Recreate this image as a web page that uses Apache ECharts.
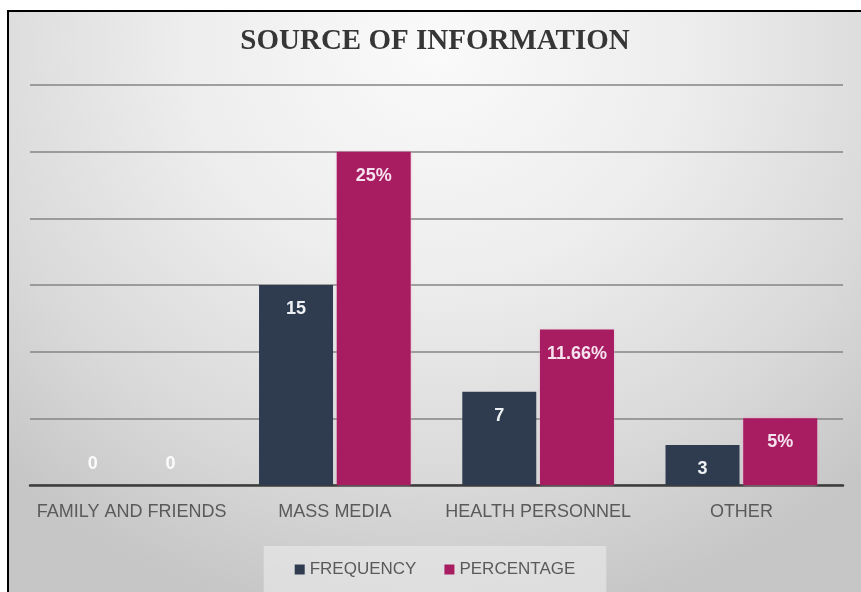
<!DOCTYPE html>
<html>
<head>
<meta charset="utf-8">
<script src="https://cdn.jsdelivr.net/npm/echarts@6/dist/echarts.min.js"></script>
<style>
  html, body { margin: 0; padding: 0; background: #ffffff; }
  #chart {
    position: absolute; left: 7px; top: 10px;
    width: 854px; height: 582px; box-sizing: border-box;
    border-left: 2px solid #000; border-top: 2px solid #000;
    background: radial-gradient(ellipse 74% 100% at 50% 6%, #fafafa 0%, #ededed 40%, #d9d9d9 75%, #c6c6c6 100%);
  }
</style>
</head>
<body>
<div id="chart"></div>
<script>
// Sources of information reported by respondents
const categories = ['FAMILY AND FRIENDS', 'MASS MEDIA', 'HEALTH PERSONNEL', 'OTHER'];
const frequency = [0, 15, 7, 3];
const percentage = [0, 25, 11.66, 5];
const seriesNames = ['FREQUENCY', 'PERCENTAGE'];

const chart = echarts.init(document.getElementById('chart'));

function labelled(values) {
  // zero-height bars carry their label just above the axis
  return values.map(v => v === 0
    ? { value: v, label: { position: 'top', distance: 12, color: '#fbfbfb' } }
    : { value: v });
}

chart.setOption({
  backgroundColor: 'transparent',
  animation: false,
  title: {
    text: 'SOURCE OF INFORMATION',
    left: 'center',
    top: 10,
    textStyle: {
      fontFamily: 'Liberation Serif',
      fontWeight: 'bold',
      fontSize: 29,
      color: '#363636'
    }
  },
  grid: { left: 21, right: 18, top: 73, bottom: 107 },
  xAxis: {
    type: 'category',
    data: categories,
    axisTick: { show: false },
    axisLine: { lineStyle: { color: '#3c3c3c', width: 2.5 } },
    axisLabel: {
      margin: 18,
      fontFamily: 'Liberation Sans',
      fontSize: 18,
      color: '#5a5a5a',
      interval: 0
    }
  },
  yAxis: {
    type: 'value',
    min: 0,
    max: 30,
    interval: 5,
    axisLabel: { show: false },
    axisLine: { show: false },
    axisTick: { show: false },
    splitLine: { lineStyle: { color: '#858585', width: 1.5 } }
  },
  legend: {
    data: seriesNames,
    bottom: -8,
    left: 'center',
    icon: 'rect',
    itemWidth: 10,
    itemHeight: 10,
    itemGap: 28,
    padding: [15, 31, 22, 31],
    backgroundColor: 'rgba(238,238,238,0.55)',
    textStyle: { fontFamily: 'Liberation Sans', fontSize: 17, color: '#5a5a5a' }
  },
  series: [
    {
      name: seriesNames[0],
      type: 'bar',
      data: labelled(frequency),
      barWidth: 74,
      barGap: '5%',
      itemStyle: { color: '#2f3c4f' },
      label: {
        show: true,
        position: 'insideTop',
        distance: 15,
        fontFamily: 'Liberation Sans',
        fontWeight: 'bold',
        fontSize: 18,
        color: '#eef1f4'
      }
    },
    {
      name: seriesNames[1],
      type: 'bar',
      data: labelled(percentage),
      barWidth: 74,
      barGap: '5%',
      itemStyle: { color: '#a81c62', shadowColor: 'rgba(240,160,200,0.8)', shadowBlur: 3 },
      label: {
        show: true,
        position: 'insideTop',
        distance: 15,
        fontFamily: 'Liberation Sans',
        fontWeight: 'bold',
        fontSize: 18,
        color: '#f6e2ee',
        formatter: p => p.value === 0 ? '0' : p.value + '%'
      }
    }
  ]
});
</script>
</body>
</html>
